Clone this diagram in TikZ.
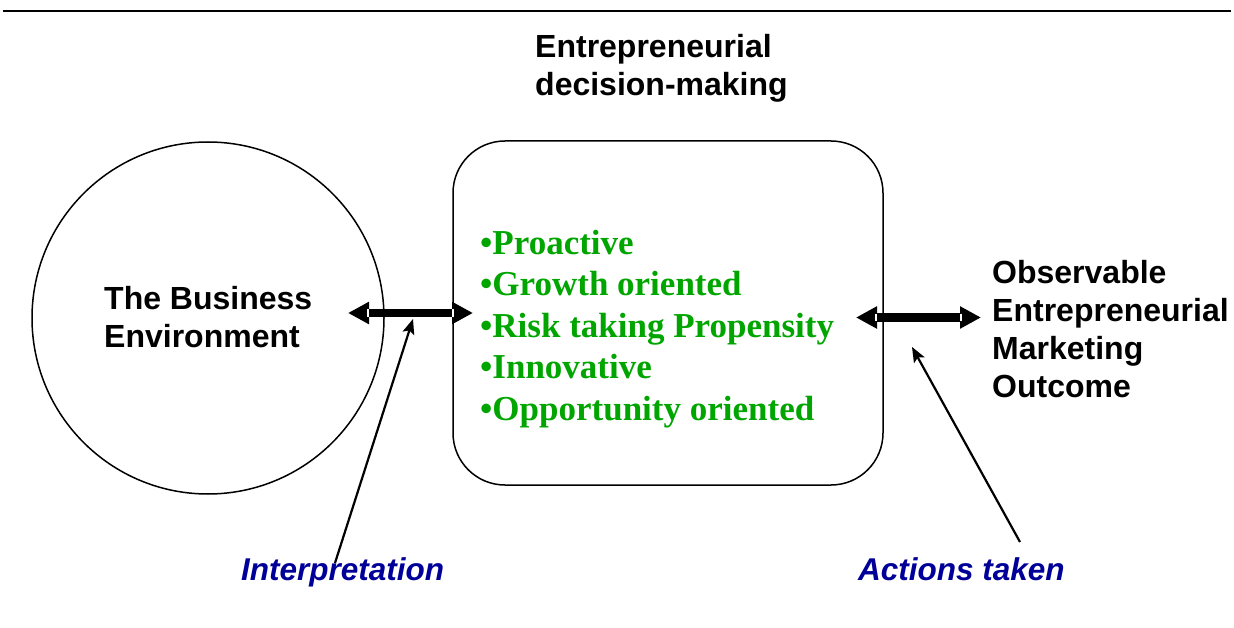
\documentclass[tikz,border=0pt]{standalone}
\usepackage{fontspec}
\setmainfont{Liberation Serif}
\setsansfont{Liberation Sans}
\usetikzlibrary{arrows.meta}
\definecolor{itemgreen}{RGB}{0,165,0}
\definecolor{labelblue}{RGB}{0,0,153}

\begin{document}
\begin{tikzpicture}[x=1pt, y=-1pt,
  heading/.style={font=\sffamily\bfseries\fontsize{32}{38}\selectfont, align=left, inner sep=0pt},
  items/.style={font=\rmfamily\bfseries\fontsize{35}{41.5}\selectfont, text=itemgreen, align=left, inner sep=0pt},
  caption/.style={font=\sffamily\bfseries\itshape\fontsize{31.5}{37.5}\selectfont, text=labelblue, inner sep=0pt},
  outline/.style={draw, line width=1.5pt},
  twoway/.style={line width=8pt, {Triangle[length=21pt,width=21pt]}-{Triangle[length=21pt,width=21pt]}},
  gapmark/.style={draw=white, line width=1.5pt},
  pointer/.style={line width=2.2pt, -{Stealth[length=15pt,width=12pt,inset=3pt]}}
]
\useasboundingbox (0,0) rectangle (1234,628);

% rule across the top
\coordinate (ruleL) at (3,11);
\coordinate (ruleR) at (1231,11);
\draw[line width=2.5pt] (ruleL) -- (ruleR);

% environment circle and decision box
\node[outline, circle, minimum size=352pt, inner sep=0pt] (env) at (208,318) {};
\node[heading, anchor=north west] (envtext) at (104,286) {The Business\\Environment};
\node[outline, rounded corners=52pt, minimum width=430pt, minimum height=344pt] (dm) at (668,313) {};

% texts
\node[heading, anchor=north west] (title) at (535,34) {Entrepreneurial\\decision-making};
\node[items, anchor=north west] (traits) at (480,230) {•Proactive\\•Growth oriented\\•Risk taking Propensity\\•Innovative\\•Opportunity oriented};
\node[heading, anchor=north west] (outcome) at (992,260) {Observable\\Entrepreneurial\\Marketing\\Outcome};
\node[caption, anchor=base west] (interp) at (241,580) {Interpretation};
\node[caption, anchor=base west] (acts) at (858,580) {Actions taken};

% two-way arrows
\coordinate (l1) at (348,313);
\coordinate (l2) at (473,313);
\coordinate (r1) at (856,317.5);
\coordinate (r2) at (981,317.5);
\draw[twoway] (l1) -- (l2);
\draw[twoway] (r1) -- (r2);
\draw[gapmark] ([xshift=20pt]l1) +(0,-3.5) -- +(0,3.5);
\draw[gapmark] ([xshift=-20pt]l2) +(0,-3.5) -- +(0,3.5);
\draw[gapmark] ([xshift=20pt]r1) +(0,-3.5) -- +(0,3.5);
\draw[gapmark] ([xshift=-20pt]r2) +(0,-3.5) -- +(0,3.5);

% pointers from the captions
\coordinate (i0) at (335,563);
\coordinate (i1) at (413,319);
\coordinate (a0) at (1020,542);
\coordinate (a1) at (912,347);
\draw[pointer] (i0) -- (i1);
\draw[pointer] (a0) -- (a1);
\end{tikzpicture}
\end{document}
